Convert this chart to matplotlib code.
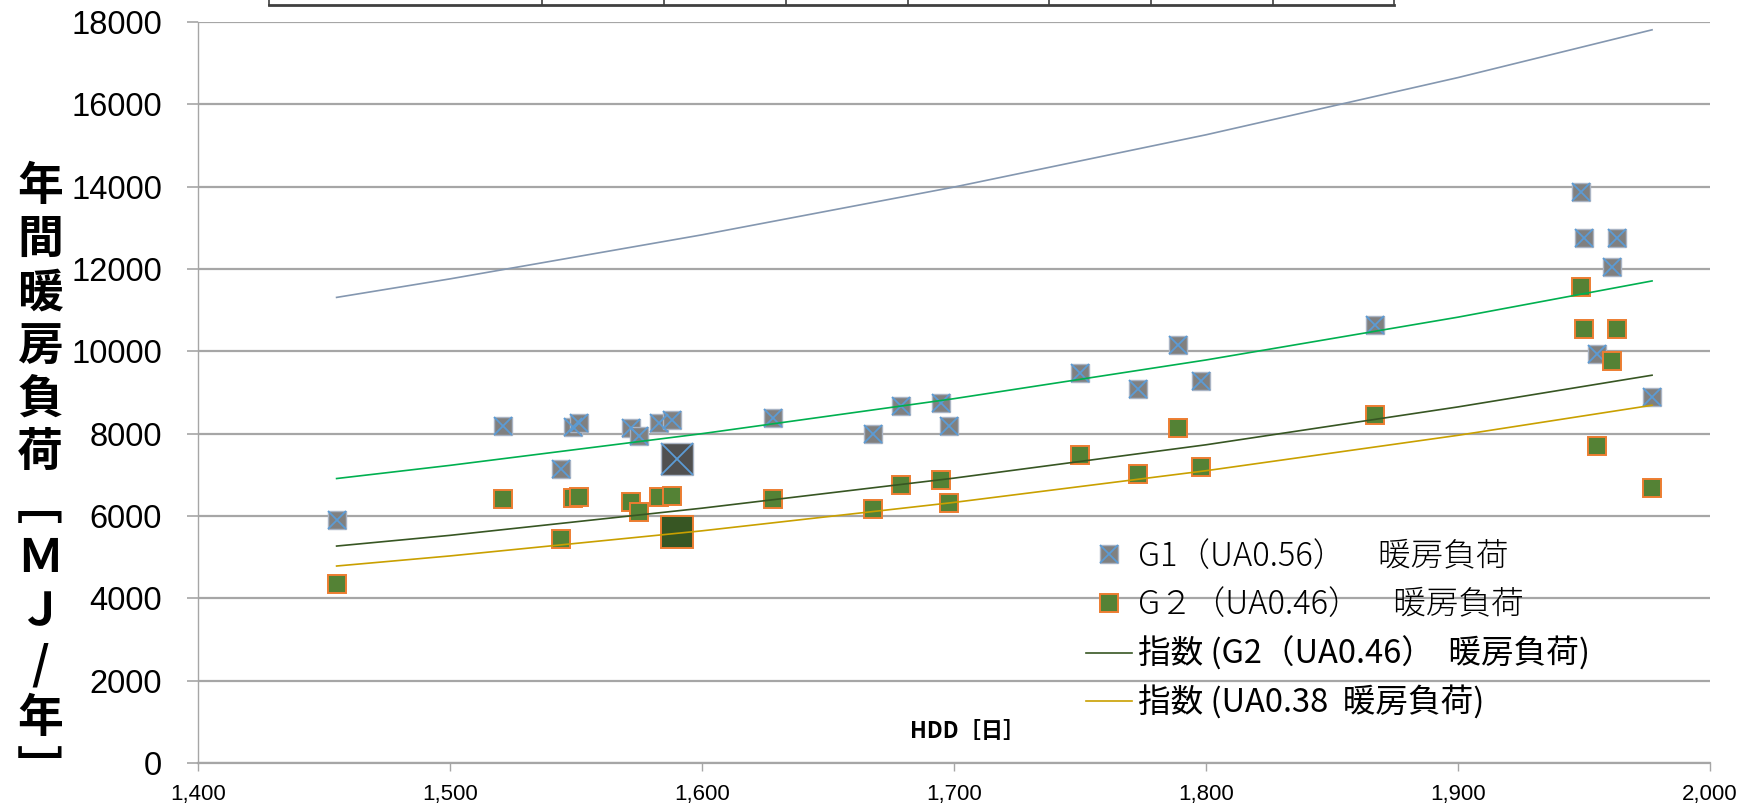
import numpy as np
import matplotlib
matplotlib.use("Agg")
import matplotlib.pyplot as plt
from matplotlib.lines import Line2D
from matplotlib.legend_handler import HandlerTuple

plt.rcParams['font.family'] = ['Liberation Sans', 'Noto Sans CJK JP', 'DejaVu Sans']

# データ (HDD と年間暖房負荷)
hdd = [1455, 1521, 1544, 1549, 1551, 1572, 1575, 1583, 1588, 1628, 1668, 1679, 1695,
       1698, 1750, 1773, 1789, 1798, 1867, 1949, 1950, 1955, 1961, 1963, 1977]
g1_load = [5900, 8190, 7130, 8170, 8250, 8130, 7950, 8250, 8330, 8370, 7990, 8660, 8750,
           8190, 9480, 9090, 10160, 9290, 10630, 13870, 12750, 9940, 12050, 12750, 8890]
g2_load = [4340, 6410, 5430, 6430, 6460, 6330, 6100, 6450, 6480, 6410, 6170, 6760, 6870,
           6310, 7480, 7020, 8130, 7200, 8450, 11560, 10540, 7710, 9770, 10550, 6670]

# 強調された地点
hi_hdd = [1590]
hi_g1 = [7380]
hi_g2 = [5600]

# 近似曲線 (指数) 図から読み取った値
trend_hdd = [1455, 1500, 1600, 1700, 1800, 1900, 1977]
trend_ua056 = [11310, 11760, 12830, 13990, 15260, 16650, 17810]
trend_g1 = [6910, 7230, 8000, 8850, 9790, 10830, 11710]
trend_g2 = [5270, 5530, 6190, 6920, 7730, 8650, 9420]
trend_ua038 = [4785, 5030, 5640, 6330, 7100, 7960, 8690]

xticks = [1400, 1500, 1600, 1700, 1800, 1900, 2000]
xtick_labels = ['1,400', '1,500', '1,600', '1,700', '1,800', '1,900', '2,000']
yticks = [0, 2000, 4000, 6000, 8000, 10000, 12000, 14000, 16000, 18000]

legend_labels = ['G1（UA0.56）　暖房負荷', 'G２（UA0.46）　暖房負荷',
                 '指数 (G2（UA0.46）  暖房負荷)', '指数 (UA0.38  暖房負荷)']
ylabel_chars = list('年間暖房負荷﹇ＭＪ/年﹈')

W, H = 1741, 809
fig = plt.figure(figsize=(W / 100, H / 100), dpi=100)
ax = fig.add_axes([198 / W, (H - 763) / H, (1710 - 198) / W, (763 - 22) / H])

grid_c = '#a6a6a6'
ax.set_xlim(1400, 2000)
ax.set_ylim(0, 18000)
ax.set_yticks(yticks)
ax.set_xticks(xticks)
ax.set_xticklabels(xtick_labels)
ax.yaxis.grid(True, color=grid_c, lw=1.6, zorder=0)
ax.set_axisbelow(True)
for s in ['top', 'right']:
    ax.spines[s].set_visible(False)
ax.spines['bottom'].set_color(grid_c)
ax.spines['bottom'].set_linewidth(1.6)
ax.spines['left'].set_color(grid_c)
ax.spines['left'].set_linewidth(1.0)
ax.tick_params(axis='y', direction='out', length=8, width=1.2, color=grid_c,
               pad=18, labelsize=23.5)
ax.tick_params(axis='x', direction='out', length=6, width=1.0, color=grid_c,
               pad=9, labelsize=16)

# 散布図
sq1, = ax.plot(hdd, g1_load, 's', ms=13.5, mfc='#808080', mec='#aab4c4', mew=1.0,
               ls='none', zorder=3)
x1, = ax.plot(hdd, g1_load, 'x', ms=13.5, mec='#5b9bd5', mew=1.3, ls='none', zorder=3)
ax.plot(hi_hdd, hi_g1, 's', ms=23, mfc='#505050', mec='#aab4c4', mew=1.0, zorder=3)
ax.plot(hi_hdd, hi_g1, 'x', ms=23, mec='#5b9bd5', mew=1.3, zorder=3)

sq2, = ax.plot(hdd, g2_load, 's', ms=13.5, mfc='#548235', mec='#ed7d31', mew=1.4,
               ls='none', zorder=4)
ax.plot(hi_hdd, hi_g2, 's', ms=23, mfc='#375623', mec='#ed7d31', mew=1.4, zorder=4)

# 近似曲線
ax.plot(trend_hdd, trend_ua056, color='#8497b0', lw=1.2, zorder=5)
ax.plot(trend_hdd, trend_g1, color='#00b050', lw=1.2, zorder=5)
l3, = ax.plot(trend_hdd, trend_g2, color='#375623', lw=1.2, zorder=5)
l4, = ax.plot(trend_hdd, trend_ua038, color='#c9a000', lw=1.2, zorder=5)

leg = ax.legend([(sq1, x1), sq2, l3, l4], legend_labels,
                handler_map={tuple: HandlerTuple(ndivide=1, pad=0)},
                loc='upper left', bbox_to_anchor=(1086 / W, 1 - 539 / H),
                bbox_transform=fig.transFigure, frameon=False,
                prop={'family': ['Noto Sans CJK JP', 'DejaVu Sans'], 'size': 23.5},
                handlelength=1.4, handletextpad=0.2, labelspacing=0.44,
                borderpad=0, borderaxespad=0)
for t in leg.get_texts()[:2]:
    t.set_fontweight('light')

# x軸ラベル
fig.text(968 / W, 1 - 731 / H, 'HDD［日］', ha='center', va='center', fontsize=16,
         fontweight='bold', family=['Noto Sans CJK JP', 'DejaVu Sans'])

# 縦書きの y軸ラベル
for ch, yy in zip(ylabel_chars, np.linspace(187, 772, len(ylabel_chars))):
    fig.text(40 / W, 1 - yy / H, ch, ha='center', va='center', fontsize=33,
             fontweight='bold', family=['Noto Sans CJK JP', 'DejaVu Sans'])

# 上部にはみ出した表の枠線
tab_x = [269, 542, 664, 786, 908, 1049, 1151, 1273, 1394]
fig.add_artist(Line2D([tab_x[0] / W, tab_x[-1] / W], [1 - 5 / H, 1 - 5 / H],
                      color='#404040', lw=2))
for tx in tab_x:
    fig.add_artist(Line2D([tx / W, tx / W], [1, 1 - 5 / H], color='#404040', lw=1.2))

fig.savefig('out.png', dpi=100)
